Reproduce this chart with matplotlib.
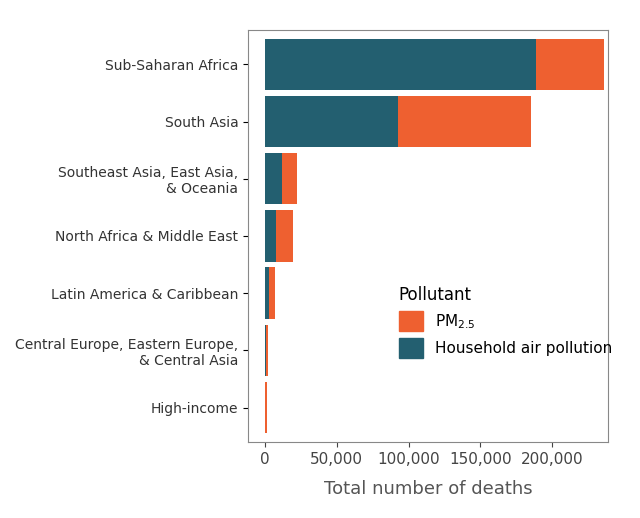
import matplotlib
matplotlib.use("Agg")
import matplotlib.pyplot as plt
from matplotlib.patches import Patch
from matplotlib.ticker import FuncFormatter

regions = ["Sub-Saharan Africa", "South Asia", "Southeast Asia, East Asia,\n& Oceania",
           "North Africa & Middle East", "Latin America & Caribbean",
           "Central Europe, Eastern Europe,\n& Central Asia", "High-income"]
hap = [189000, 92600, 12000, 7500, 3000, 500, 200]
pm25_total = [236000, 185600, 22400, 19400, 6900, 2300, 1000]

teal = "#235f70"
orange = "#ee6030"

fig = plt.figure(figsize=(6.4, 5.18), dpi=100)
ax = fig.add_axes([0.3875, 0.147, 0.5625, 0.795])
y = list(range(len(regions)))
pm = [t - h for t, h in zip(pm25_total, hap)]
ax.barh(y, hap, color=teal, height=0.9)
ax.barh(y, pm, left=hap, color=orange, height=0.9)
ax.set_yticks(y)
ax.set_yticklabels(regions, fontsize=10, color="#333333")
for lab in ax.get_yticklabels():
    lab.set_horizontalalignment("right")
ax.set_ylim(6.6, -0.6)
ax.set_xlim(-11900, 239000)
ax.set_xticks([0, 50000, 100000, 150000, 200000])
ax.xaxis.set_major_formatter(FuncFormatter(lambda v, p: f"{int(v):,}"))
ax.tick_params(axis="x", labelsize=11, colors="#444444")
ax.set_xlabel("Total number of deaths", fontsize=13, color="#555555", labelpad=10)
for s in ax.spines.values():
    s.set_color("#888888")
handles = [Patch(color=orange, label="PM$_{2.5}$"), Patch(color=teal, label="Household air pollution")]
leg = ax.legend(handles=handles, title="Pollutant", loc="lower left", bbox_to_anchor=(0.38, 0.17),
                frameon=False, fontsize=11, title_fontsize=12, handlelength=1.6, handleheight=1.6)
leg._legend_box.align = "left"
fig.savefig("out.png", dpi=100)
